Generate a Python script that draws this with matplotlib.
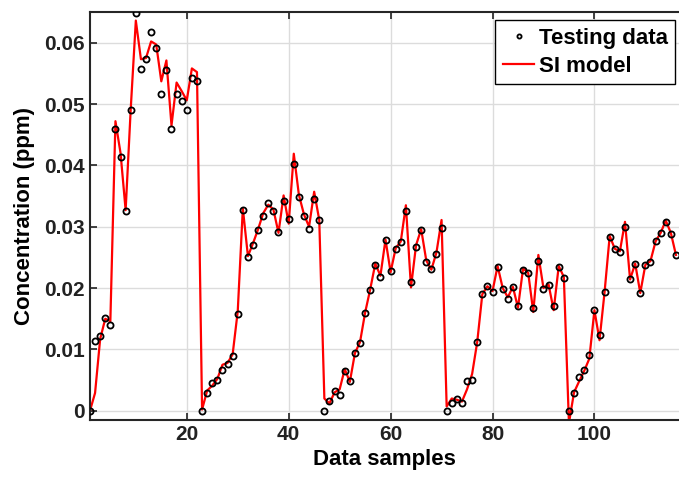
import numpy as np
from matplotlib import pyplot as plt

plt.rcParams['font.family'] = ['Liberation Sans', 'DejaVu Sans']
plt.rcParams['font.weight'] = 'bold'

# concentration, samples 1..116
testing_data = [
    0.0000, 0.0113, 0.0122, 0.0152, 0.0140, 0.0459, 0.0414, 0.0325, 0.0490, 0.0649,
    0.0557, 0.0573, 0.0617, 0.0591, 0.0516, 0.0555, 0.0459, 0.0517, 0.0505, 0.0491,
    0.0543, 0.0537, 0.0000, 0.0029, 0.0045, 0.0050, 0.0066, 0.0077, 0.0090, 0.0158,
    0.0328, 0.0250, 0.0271, 0.0294, 0.0318, 0.0338, 0.0326, 0.0291, 0.0342, 0.0312,
    0.0403, 0.0349, 0.0318, 0.0297, 0.0345, 0.0311, 0.0000, 0.0016, 0.0032, 0.0026,
    0.0065, 0.0049, 0.0094, 0.0111, 0.0159, 0.0197, 0.0238, 0.0218, 0.0278, 0.0228,
    0.0264, 0.0275, 0.0326, 0.0210, 0.0267, 0.0294, 0.0243, 0.0231, 0.0256, 0.0298,
    0.0000, 0.0012, 0.0020, 0.0013, 0.0048, 0.0050, 0.0112, 0.0191, 0.0203, 0.0194,
    0.0234, 0.0199, 0.0183, 0.0201, 0.0171, 0.0229, 0.0224, 0.0168, 0.0244, 0.0199,
    0.0205, 0.0170, 0.0235, 0.0217, 0.0000, 0.0029, 0.0055, 0.0066, 0.0091, 0.0164,
    0.0123, 0.0194, 0.0283, 0.0264, 0.0258, 0.0300, 0.0214, 0.0240, 0.0192, 0.0238,
    0.0243, 0.0276, 0.0289, 0.0307, 0.0288, 0.0254,
]

si_model = [
    0.0000, 0.0029, 0.0117, 0.0150, 0.0146, 0.0472, 0.0420, 0.0327, 0.0492, 0.0636,
    0.0573, 0.0575, 0.0602, 0.0597, 0.0537, 0.0571, 0.0465, 0.0535, 0.0521, 0.0506,
    0.0558, 0.0552, 0.0002, 0.0033, 0.0041, 0.0052, 0.0075, 0.0078, 0.0092, 0.0162,
    0.0330, 0.0252, 0.0273, 0.0296, 0.0322, 0.0336, 0.0328, 0.0290, 0.0351, 0.0305,
    0.0419, 0.0352, 0.0320, 0.0300, 0.0357, 0.0311, 0.0020, 0.0012, 0.0030, 0.0035,
    0.0068, 0.0047, 0.0094, 0.0112, 0.0160, 0.0198, 0.0240, 0.0220, 0.0279, 0.0226,
    0.0265, 0.0276, 0.0335, 0.0201, 0.0270, 0.0296, 0.0245, 0.0230, 0.0258, 0.0311,
    0.0007, 0.0020, 0.0018, 0.0015, 0.0035, 0.0060, 0.0112, 0.0190, 0.0203, 0.0195,
    0.0236, 0.0200, 0.0185, 0.0202, 0.0168, 0.0232, 0.0225, 0.0161, 0.0254, 0.0200,
    0.0206, 0.0164, 0.0236, 0.0218, -0.0020, 0.0030, 0.0048, 0.0065, 0.0085, 0.0164,
    0.0115, 0.0194, 0.0285, 0.0264, 0.0260, 0.0308, 0.0214, 0.0240, 0.0192, 0.0238,
    0.0244, 0.0276, 0.0290, 0.0310, 0.0290, 0.0254,
]

samples = np.arange(1, len(testing_data) + 1)

fig = plt.figure(figsize=(6.79, 4.87), dpi=100)
ax = fig.add_axes([0.1325, 0.1376, 0.8675, 0.8378])

ax.plot(samples, testing_data, 'o', markersize=4.4, markerfacecolor='none',
        markeredgecolor='black', markeredgewidth=1.3, label='Testing data', zorder=3)
ax.plot(samples, si_model, '-', color='red', linewidth=1.6, label='SI model', zorder=2)

ax.set_xlim(1, 116.6)
ax.set_ylim(-0.0015, 0.065)
ax.set_xticks([20, 40, 60, 80, 100])
ax.set_yticks([0, 0.01, 0.02, 0.03, 0.04, 0.05, 0.06])
ax.set_yticklabels(['0', '0.01', '0.02', '0.03', '0.04', '0.05', '0.06'])

ax.grid(True, color='#dcdcdc', linewidth=1.0)
ax.set_axisbelow(True)
ax.tick_params(direction='in', length=5, width=1.2, top=True, labelsize=15, colors='#222222')
for side in ['left', 'bottom', 'top']:
    ax.spines[side].set_linewidth(1.5)
    ax.spines[side].set_color('#262626')
ax.spines['right'].set_visible(False)

ax.set_xlabel('Data samples', fontsize=16, fontweight='bold', labelpad=4)
ax.set_ylabel('Concentration (ppm)', fontsize=16, fontweight='bold', labelpad=7)

leg = ax.legend(loc='upper right', bbox_to_anchor=(0.994, 0.98), fontsize=16,
                frameon=True, fancybox=False, edgecolor='black', framealpha=1,
                handlelength=1.4, handletextpad=0.2, borderpad=0.35, labelspacing=0.3,
                borderaxespad=0)
leg.get_frame().set_linewidth(1.0)
leg.legend_handles[0].set_markersize(3)

plt.savefig('out.png', dpi=100)
